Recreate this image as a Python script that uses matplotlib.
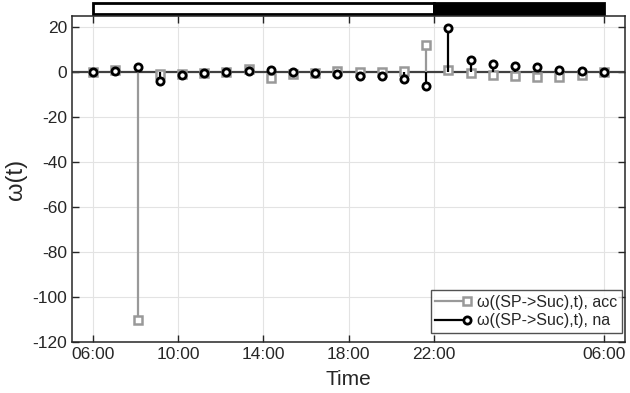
import numpy as np
import matplotlib
matplotlib.use("Agg")
import matplotlib.pyplot as plt
from matplotlib.patches import Rectangle
from matplotlib.lines import Line2D
from matplotlib.legend_handler import HandlerLine2D
import matplotlib.transforms as mtransforms

plt.rcParams['font.family'] = ['Liberation Sans', 'DejaVu Sans']
plt.rcParams['axes.unicode_minus'] = False

# ---- data ----
hour_start = 6.0
hour_end = 30.0
n_samples = 24
time_h = np.linspace(hour_start, hour_end, n_samples)

acc = [0.0, 1.2, -110.0, -1.0, -0.8, -0.3, 0.2, 1.6, -2.4, -0.6, -0.3, 0.6,
       0.0, 0.0, 0.4, 12.2, 0.8, -0.5, -1.3, -1.9, -2.2, -2.2, -1.4, 0.0]
na = [0.0, 0.6, 2.4, -4.0, -1.2, -0.3, 0.1, 0.6, 0.8, 0.3, -0.4, -1.0,
      -1.5, -1.9, -2.8, -6.2, 19.6, 5.5, 3.7, 2.8, 2.1, 1.2, 0.5, 0.0]

xticks = [6, 10, 14, 18, 22, 30]
xtick_labels = ['06:00', '10:00', '14:00', '18:00', '22:00', '06:00']
yticks = [-120, -100, -80, -60, -40, -20, 0, 20]
light_period = (6, 22)
dark_period = (22, 30)

label_acc = 'ω((SP->Suc),t), acc'
label_na = 'ω((SP->Suc),t), na'

# ---- figure ----
fig = plt.figure(figsize=(6.3, 3.93), dpi=100)
ax = fig.add_axes([72/630, 51/393, 553/630, 326/393])

dark = '#262626'
gray = '#999999'

ax.set_xlim(5, 31)
ax.set_ylim(-120, 25)
ax.grid(True, color='#e3e3e3', linewidth=0.8)
ax.set_axisbelow(True)

ax.axhline(0, color='#404040', linewidth=1.6, zorder=2)

ax.vlines(time_h, 0, acc, color=gray, linewidth=1.6, zorder=3)
l_acc, = ax.plot(time_h, acc, linestyle='none', marker='s', markersize=5.5,
                 markeredgewidth=1.8, markeredgecolor=gray,
                 markerfacecolor='white', color=gray, zorder=4)
ax.vlines(time_h, 0, na, color='black', linewidth=1.6, zorder=5)
l_na, = ax.plot(time_h, na, linestyle='none', marker='o', markersize=5.2,
                markeredgewidth=2.0, markeredgecolor='black',
                markerfacecolor='white', color='black', zorder=6)

ax.set_xticks(xticks)
ax.set_xticklabels(xtick_labels)
ax.set_yticks(yticks)
ax.tick_params(direction='in', length=5, width=1.0, colors=dark,
               labelsize=12.5, top=True, right=True, labelcolor=dark)
for s in ax.spines.values():
    s.set_color(dark)
    s.set_linewidth(1.1)

ax.set_xlabel('Time', fontsize=15, color=dark, labelpad=6)
ax.set_ylabel('ω(t)', fontsize=17, color=dark, labelpad=4)

# top light/dark bar
trans = mtransforms.blended_transform_factory(ax.transData, ax.transAxes)
y0 = (342 - 14) / 326
h = 11 / 326
ax.add_patch(Rectangle((light_period[0], y0), light_period[1] - light_period[0], h,
                       transform=trans, clip_on=False, facecolor='white',
                       edgecolor='black', linewidth=2.0))
ax.add_patch(Rectangle((dark_period[0], y0), dark_period[1] - dark_period[0], h,
                       transform=trans, clip_on=False, facecolor='black',
                       edgecolor='black', linewidth=2.0))

# legend with marker at right end of line
class StemHandler(HandlerLine2D):
    def create_artists(self, *args, **kwargs):
        arts = super().create_artists(*args, **kwargs)
        for a in arts:
            a.set_markevery([2])
        return arts

h_acc = Line2D([], [], color=gray, linewidth=1.6, marker='s', markersize=5.5,
               markeredgewidth=1.8, markeredgecolor=gray, markerfacecolor='white')
h_na = Line2D([], [], color='black', linewidth=1.6, marker='o', markersize=5.2,
              markeredgewidth=2.0, markeredgecolor='black', markerfacecolor='white')
leg = ax.legend([h_acc, h_na], [label_acc, label_na], loc='lower right',
                bbox_to_anchor=(0.9946, 0.0276), borderaxespad=0,
                fontsize=11.5, frameon=True, fancybox=False,
                handlelength=2.0, handletextpad=0.6, borderpad=0.3,
                labelspacing=0.2,
                handler_map={Line2D: StemHandler()})
leg.get_frame().set_edgecolor(dark)
leg.get_frame().set_linewidth(1.0)
for t in leg.get_texts():
    t.set_color(dark)

fig.savefig('out.png', dpi=100)
